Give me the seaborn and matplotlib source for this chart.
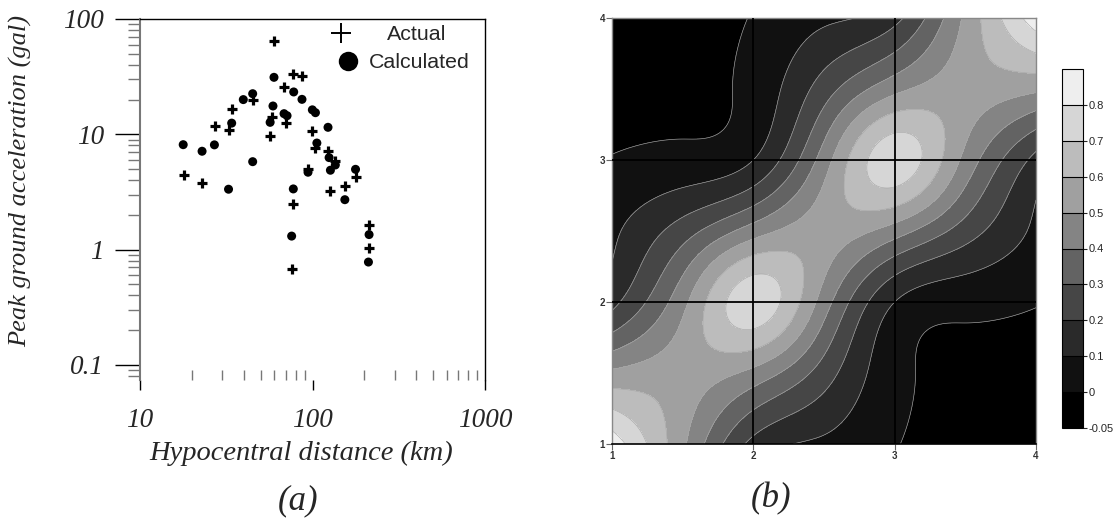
import numpy as np
import pandas as pd
import matplotlib
matplotlib.use("Agg")
import matplotlib.pyplot as plt
import seaborn as sns
from matplotlib.lines import Line2D
from matplotlib.ticker import LogLocator, NullFormatter, FixedLocator

# ---- panel (a): peak ground acceleration vs hypocentral distance ----
actual_dist = [59.8, 77.4, 86.9, 68.4, 45.0, 34.0, 27.1, 32.6, 58.5, 70.2, 56.8,
               99.8, 104, 123.5, 134.6, 17.9, 23.0, 94.2, 177.6, 154, 127, 77.4,
               75.7, 211.6, 211.6]
actual_pga = [64.4, 33.3, 32.0, 25.7, 19.9, 16.5, 11.8, 10.9, 14.0, 12.5, 9.7,
              10.7, 7.6, 7.2, 5.9, 4.44, 3.78, 4.97, 4.3, 3.59, 3.25, 2.51,
              0.676, 1.65, 1.04]

calc_dist = [59.8, 77.8, 86.9, 39.7, 45.0, 59.0, 99.8, 104, 68.4, 71.2, 34.0,
             56.8, 123, 17.8, 27.0, 22.9, 106, 124.8, 135.6, 127, 94.2, 177.6,
             45.0, 32.6, 77.4, 154, 75.7, 212.8, 211]
calc_pga = [31.2, 23.3, 20.1, 20.0, 22.5, 17.6, 16.3, 15.4, 15.1, 14.5, 12.5,
            12.7, 11.5, 8.13, 8.1, 7.13, 8.4, 6.28, 5.42, 4.88, 4.69, 4.97,
            5.79, 3.34, 3.36, 2.71, 1.31, 1.35, 0.78]

pga_ticks = [0.1, 1, 10, 100]
pga_tick_labels = ["0.1", "1", "10", "100"]
dist_ticks = [10, 100, 1000]
dist_tick_labels = ["10", "100", "1000"]

# ---- panel (b): gridded surface on [1, 4] x [1, 4], node spacing 0.5 ----
node_pos = [1.0, 1.5, 2.0, 2.5, 3.0, 3.5, 4.0]
node_values = [  # rows: y = 1.0 .. 4.0, columns: x = 1.0 .. 4.0
    [0.86, 0.52, 0.17, 0.08, 0.005, -0.03, -0.04],
    [0.52, 0.55, 0.47, 0.25, 0.03, -0.02, -0.03],
    [0.17, 0.47, 0.76, 0.45, 0.10, 0.03, 0.005],
    [0.08, 0.25, 0.45, 0.55, 0.45, 0.25, 0.08],
    [0.005, 0.03, 0.10, 0.45, 0.76, 0.47, 0.17],
    [-0.03, -0.02, 0.03, 0.25, 0.47, 0.55, 0.52],
    [-0.04, -0.03, 0.005, 0.08, 0.17, 0.52, 0.86],
]
contour_levels = [-0.05, 0.0, 0.1, 0.2, 0.3, 0.4, 0.5, 0.6, 0.7, 0.8, 0.9]
cbar_ticks = [-0.05, 0.0, 0.1, 0.2, 0.3, 0.4, 0.5, 0.6, 0.7, 0.8]
band_grays = ["#000000", "#111111", "#2a2a2a", "#464646", "#636363",
              "#848484", "#a0a0a0", "#bcbcbc", "#d6d6d6", "#eeeeee"]
panel_ticks = [1, 2, 3, 4]


def spline_basis(nodes, xs):
    """Natural cubic spline weights of each node evaluated at xs."""
    nodes = np.asarray(nodes, float)
    n = len(nodes)
    h = np.diff(nodes)
    seg = np.clip(np.searchsorted(nodes, xs) - 1, 0, n - 2)
    t = (xs - nodes[seg]) / h[seg]
    hh = h[seg]
    basis = np.empty((len(xs), n))
    for k in range(n):
        y = np.zeros(n)
        y[k] = 1.0
        A = np.zeros((n, n))
        r = np.zeros(n)
        A[0, 0] = A[-1, -1] = 1.0
        for i in range(1, n - 1):
            A[i, i - 1] = h[i - 1]
            A[i, i] = 2 * (h[i - 1] + h[i])
            A[i, i + 1] = h[i]
            r[i] = 6 * ((y[i + 1] - y[i]) / h[i] - (y[i] - y[i - 1]) / h[i - 1])
        m = np.linalg.solve(A, r)
        basis[:, k] = (y[seg] * (1 - t) + y[seg + 1] * t
                       + ((1 - t) ** 3 - (1 - t)) * m[seg] * hh ** 2 / 6
                       + (t ** 3 - t) * m[seg + 1] * hh ** 2 / 6)
    return basis


sns.set_style("white")
plt.rcParams["font.family"] = ["Liberation Sans", "DejaVu Sans"]

fig = plt.figure(figsize=(11.19, 5.25), dpi=100)
W, H = 1119, 525


def fig_rect(x0, y0, x1, y1):
    return [x0 / W, 1 - y1 / H, (x1 - x0) / W, (y1 - y0) / H]


serif = dict(family="Liberation Serif", style="italic")

# ---------------- panel (a) ----------------
ax1 = fig.add_axes(fig_rect(140, 19, 485, 380))
ax1.set(xscale="log", yscale="log")
df_act = pd.DataFrame({"dist": actual_dist, "pga": actual_pga})
df_calc = pd.DataFrame({"dist": calc_dist, "pga": calc_pga})
sns.scatterplot(data=df_calc, x="dist", y="pga", marker="o", s=42,
                color="black", edgecolor="none", ax=ax1, legend=False, zorder=3)
sns.scatterplot(data=df_act, x="dist", y="pga", marker="+", s=48,
                color="black", linewidth=2.3, ax=ax1, legend=False, zorder=4)
ax1.set_xlim(10, 1000)
ax1.set_ylim(0.074, 100)

ax1.yaxis.set_major_locator(FixedLocator(pga_ticks))
ax1.set_yticklabels(pga_tick_labels)
ax1.yaxis.set_minor_locator(LogLocator(base=10, subs=np.arange(2, 10)))
ax1.yaxis.set_minor_formatter(NullFormatter())
ax1.xaxis.set_major_locator(FixedLocator(dist_ticks))
ax1.set_xticklabels(dist_tick_labels)
ax1.xaxis.set_minor_locator(LogLocator(base=10, subs=np.arange(2, 10)))
ax1.xaxis.set_minor_formatter(NullFormatter())

ax1.tick_params(axis="y", which="major", direction="out", length=18, width=1,
                color="black", pad=8, left=True)
ax1.tick_params(axis="y", which="minor", direction="out", length=9, width=1,
                color="#777777", left=True)
ax1.tick_params(axis="x", which="major", direction="out", length=7, width=1,
                color="black", pad=13, bottom=True)
ax1.tick_params(axis="x", which="minor", direction="in", length=7, width=1,
                color="#777777", bottom=True)
for lab in ax1.get_xticklabels() + ax1.get_yticklabels():
    lab.set_fontfamily("Liberation Serif")
    lab.set_fontstyle("italic")
    lab.set_fontsize(19.5)

for side in ["top", "right"]:
    ax1.spines[side].set_visible(True)
    ax1.spines[side].set_color("black")
    ax1.spines[side].set_linewidth(1.0)
ax1.spines["left"].set_color("#777777")
ax1.spines["left"].set_linewidth(1.5)
ax1.spines["bottom"].set_visible(False)

ax1.set_xlabel("Hypocentral distance (km)", fontsize=20.5, **serif)
ax1.xaxis.set_label_coords(0.467, -0.168)
ax1.set_ylabel("Peak ground acceleration (gal)", fontsize=19, **serif)
ax1.yaxis.set_label_coords(-0.312, 0.552)

# legend: one entry per legend so each label can sit at its own offset
leg_font = 15.4
leg_actual = ax1.legend(
    handles=[Line2D([], [], marker="+", linestyle="none", color="black",
                    markersize=15, markeredgewidth=1.4, label="Actual")],
    loc="center left", frameon=False, fontsize=leg_font,
    bbox_to_anchor=(330 / W, 1 - 35 / H), bbox_transform=fig.transFigure,
    handlelength=1.0, handletextpad=1.65, borderpad=0, borderaxespad=0)
ax1.add_artist(leg_actual)
ax1.legend(
    handles=[Line2D([], [], marker="o", linestyle="none", color="black",
                    markersize=14, markeredgewidth=0, label="Calculated")],
    loc="center left", frameon=False, fontsize=leg_font,
    bbox_to_anchor=(337 / W, 1 - 63 / H), bbox_transform=fig.transFigure,
    handlelength=1.0, handletextpad=0.48, borderpad=0, borderaxespad=0)

fig.text(298 / W, 1 - 501 / H, "(a)", ha="center", va="center",
         fontsize=25, **serif)

# ---------------- panel (b) ----------------
ax2 = fig.add_axes(fig_rect(612, 18, 1036, 444))
fine = np.linspace(node_pos[0], node_pos[-1], 361)
bx = spline_basis(node_pos, fine)
field = bx @ np.asarray(node_values) @ bx.T
# keep the smooth surface inside the plotted colour range
field = np.clip(field, contour_levels[0] + 1e-3, contour_levels[-1] - 1e-3)
gx, gy = np.meshgrid(fine, fine)
cf = ax2.contourf(gx, gy, field, levels=contour_levels, colors=band_grays,
                  extend="neither")
ax2.contour(gx, gy, field, levels=contour_levels[1:-1], colors="#a8a8a8",
            linewidths=0.45)
for v in [2, 3]:
    ax2.axvline(v, color="black", lw=1.3, zorder=5)
    ax2.axhline(v, color="black", lw=1.3, zorder=5)
ax2.set_xlim(1, 4)
ax2.set_ylim(1, 4)
ax2.set_xticks(panel_ticks)
ax2.set_yticks(panel_ticks)
ax2.set_xticklabels([str(t) for t in panel_ticks])
ax2.set_yticklabels([str(t) for t in panel_ticks])
ax2.tick_params(axis="both", direction="out", length=4, width=0.8,
                color="#666666", labelsize=7, labelcolor="#333333", pad=1,
                bottom=True, left=True)
for lab in ax2.get_xticklabels() + ax2.get_yticklabels():
    lab.set_fontweight("bold")
for side in ["top", "left", "right"]:
    ax2.spines[side].set_color("#888888")
    ax2.spines[side].set_linewidth(1.0)
ax2.spines["bottom"].set_color("black")
ax2.spines["bottom"].set_linewidth(1.2)

cax = fig.add_axes(fig_rect(1062, 69, 1083, 428))
cb = fig.colorbar(cf, cax=cax, ticks=cbar_ticks, drawedges=True)
cb.ax.set_yticklabels([f"{t:g}" for t in cbar_ticks])
cb.outline.set_edgecolor("black")
cb.outline.set_linewidth(0.8)
cb.dividers.set_color("black")
cb.dividers.set_linewidth(0.8)
cb.ax.tick_params(labelsize=8, length=3, width=0.8, pad=1, right=True)

fig.text(771 / W, 1 - 499 / H, "(b)", ha="center", va="center",
         fontsize=25, **serif)

fig.savefig("out.png", dpi=100, facecolor="white")
